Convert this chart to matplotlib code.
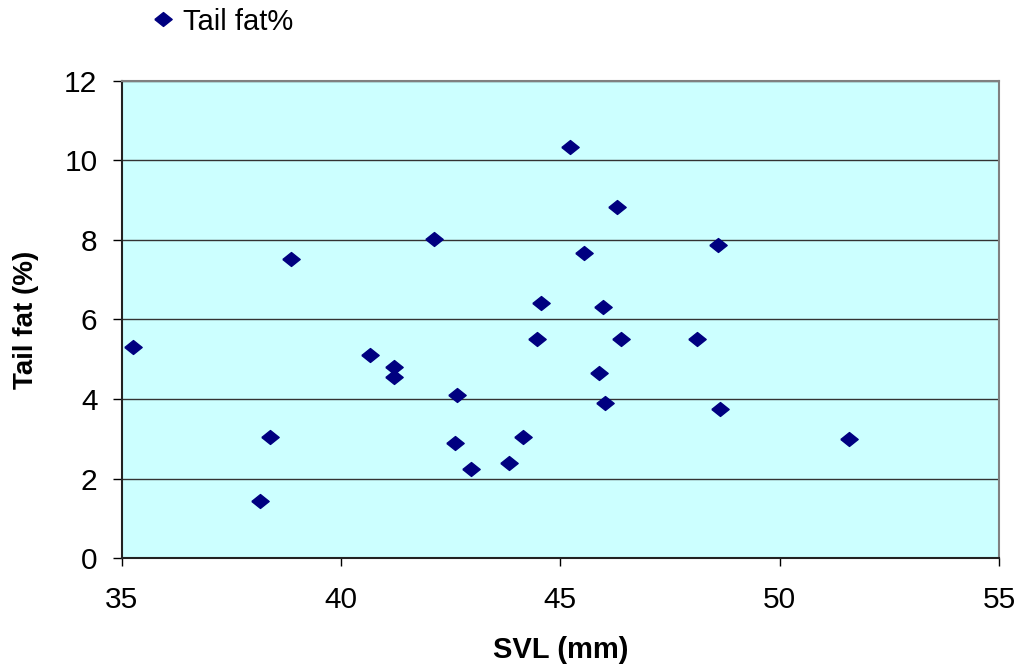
import matplotlib.pyplot as plt
import numpy as np

# SVL (mm) et pourcentage de graisse caudale, un point par individu
svl = [35.26, 38.16, 38.37, 38.85, 40.67, 41.21, 41.21, 42.12, 42.65, 42.60,
       42.97, 43.83, 44.15, 44.47, 44.57, 45.22, 45.54, 45.87, 45.97, 46.02,
       46.29, 46.39, 48.11, 48.59, 48.64, 51.58]
tail_fat = [5.31, 1.43, 3.04, 7.51, 5.11, 4.81, 4.55, 8.03, 4.10, 2.89,
            2.24, 2.39, 3.04, 5.51, 6.42, 10.34, 7.67, 4.65, 6.31, 3.90,
            8.83, 5.51, 5.51, 7.87, 3.75, 2.99]

x_ticks = [35, 40, 45, 50, 55]
y_ticks = [0, 2, 4, 6, 8, 10, 12]

plt.rcParams['font.family'] = ['Liberation Sans', 'DejaVu Sans']

# losange un peu plus large que haut
losange = [(-1, 0), (0, 0.8), (1, 0), (0, -0.8), (-1, 0)]

fig = plt.figure(figsize=(10.23, 6.67), dpi=100)
ax = fig.add_axes([0.119, 0.1634, 0.8575, 0.7152])
ax.set_facecolor('#CCFFFF')

ax.plot(svl, tail_fat, linestyle='none', marker=losange, markersize=12.5,
        color='#000080', label='Tail fat%', clip_on=False, zorder=3)

ax.set_xlim(35, 55)
ax.set_ylim(0, 12)
ax.set_xticks(x_ticks)
ax.set_yticks(y_ticks)
ax.tick_params(axis='x', direction='out', length=6, width=1, pad=14, labelsize=21.5)
ax.tick_params(axis='y', direction='out', length=6.5, width=1, pad=11, labelsize=21.5)

ax.set_axisbelow(True)
ax.grid(axis='y', color='#333333', linewidth=1)
ax.grid(axis='x', visible=False)

for cote in ['top', 'right']:
    ax.spines[cote].set_color('#808080')
    ax.spines[cote].set_linewidth(1.5)
for cote in ['left', 'bottom']:
    ax.spines[cote].set_color('#222222')
    ax.spines[cote].set_linewidth(1.5)

ax.set_xlabel('SVL (mm)', fontsize=21, fontweight='bold', labelpad=16)
ax.set_ylabel('Tail fat (%)', fontsize=20, fontweight='bold', labelpad=18)

ax.legend(loc='center left', bbox_to_anchor=(148 / 1023, 1 - 21.7 / 667),
          bbox_transform=fig.transFigure, frameon=False, fontsize=21,
          handlelength=1, handletextpad=0.2, borderpad=0, borderaxespad=0)

fig.savefig('out.png', dpi=100)
